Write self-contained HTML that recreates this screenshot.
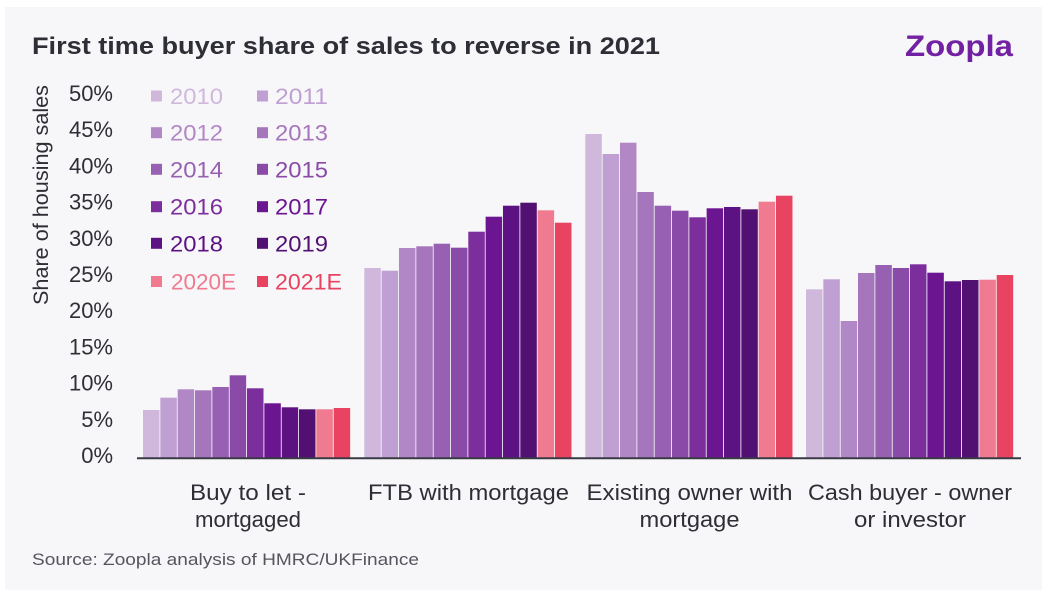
<!DOCTYPE html>
<html>
<head>
<meta charset="utf-8">
<style>
html,body{margin:0;padding:0;background:#ffffff;}
body{width:1054px;height:604px;overflow:hidden;}
svg{display:block;font-family:"Liberation Sans",sans-serif;}
</style>
</head>
<body>
<svg width="1054" height="604" viewBox="0 0 1054 604" xmlns="http://www.w3.org/2000/svg">
  <rect x="0" y="0" width="1054" height="604" fill="#ffffff"/>
  <rect x="5" y="7" width="1037" height="583" fill="#f7f7f9"/>

  <!-- Title -->
  <text x="32" y="54" font-size="24.5" font-weight="bold" fill="#2e2e36" textLength="628" lengthAdjust="spacingAndGlyphs">First time buyer share of sales to reverse in 2021</text>

  <!-- Logo -->
  <text x="905" y="56" font-size="30" font-weight="bold" fill="#7321a3" textLength="108" lengthAdjust="spacingAndGlyphs">Zoopla</text>

  <!-- Y axis title -->
  <text transform="translate(48,195) rotate(-90)" text-anchor="middle" font-size="21" fill="#2e2e36" textLength="220" lengthAdjust="spacingAndGlyphs">Share of housing sales</text>

  <!-- Y tick labels -->
  <g font-size="22" fill="#2e2e36" text-anchor="end">
    <text x="113" y="101">50%</text>
    <text x="113" y="137">45%</text>
    <text x="113" y="173.5">40%</text>
    <text x="113" y="209.5">35%</text>
    <text x="113" y="246">30%</text>
    <text x="113" y="282">25%</text>
    <text x="113" y="318">20%</text>
    <text x="113" y="354.5">15%</text>
    <text x="113" y="390.5">10%</text>
    <text x="113" y="427">5%</text>
    <text x="113" y="463">0%</text>
  </g>

  <!-- Bars group 1 -->
  <g transform="translate(143,0)">
    <rect x="0" y="410" width="16.5" height="47.5" fill="#d0b8dd"/>
    <rect x="17.33" y="397.7" width="16.5" height="59.8" fill="#c09fd2"/>
    <rect x="34.67" y="389.3" width="16.5" height="68.2" fill="#b287c6"/>
    <rect x="52" y="390.3" width="16.5" height="67.2" fill="#a576bc"/>
    <rect x="69.33" y="387" width="16.5" height="70.5" fill="#9860b2"/>
    <rect x="86.67" y="375.3" width="16.5" height="82.2" fill="#8a4aa8"/>
    <rect x="104" y="388.3" width="16.5" height="69.2" fill="#7c2e9d"/>
    <rect x="121.33" y="403.3" width="16.5" height="54.2" fill="#6b1591"/>
    <rect x="138.67" y="407.3" width="16.5" height="50.2" fill="#5d1283"/>
    <rect x="156" y="409.3" width="16.5" height="48.2" fill="#521072"/>
    <rect x="173.33" y="409.3" width="16.5" height="48.2" fill="#f07a8f"/>
    <rect x="190.67" y="408" width="16.5" height="49.5" fill="#e84462"/>
  </g>
  <!-- Bars group 2 -->
  <g transform="translate(364.3,0)">
    <rect x="0" y="268" width="16.5" height="189.5" fill="#d0b8dd"/>
    <rect x="17.33" y="270.7" width="16.5" height="186.8" fill="#c09fd2"/>
    <rect x="34.67" y="248" width="16.5" height="209.5" fill="#b287c6"/>
    <rect x="52" y="246.3" width="16.5" height="211.2" fill="#a576bc"/>
    <rect x="69.33" y="243.7" width="16.5" height="213.8" fill="#9860b2"/>
    <rect x="86.67" y="247.7" width="16.5" height="209.8" fill="#8a4aa8"/>
    <rect x="104" y="231.7" width="16.5" height="225.8" fill="#7c2e9d"/>
    <rect x="121.33" y="216.7" width="16.5" height="240.8" fill="#6b1591"/>
    <rect x="138.67" y="205.7" width="16.5" height="251.8" fill="#5d1283"/>
    <rect x="156" y="202.7" width="16.5" height="254.8" fill="#521072"/>
    <rect x="173.33" y="210.3" width="16.5" height="247.2" fill="#f07a8f"/>
    <rect x="190.67" y="222.7" width="16.5" height="234.8" fill="#e84462"/>
  </g>
  <!-- Bars group 3 -->
  <g transform="translate(585.3,0)">
    <rect x="0" y="134" width="16.5" height="323.5" fill="#d0b8dd"/>
    <rect x="17.33" y="154" width="16.5" height="303.5" fill="#c09fd2"/>
    <rect x="34.67" y="142.7" width="16.5" height="314.8" fill="#b287c6"/>
    <rect x="52" y="192" width="16.5" height="265.5" fill="#a576bc"/>
    <rect x="69.33" y="205.7" width="16.5" height="251.8" fill="#9860b2"/>
    <rect x="86.67" y="210.7" width="16.5" height="246.8" fill="#8a4aa8"/>
    <rect x="104" y="217.3" width="16.5" height="240.2" fill="#7c2e9d"/>
    <rect x="121.33" y="208.3" width="16.5" height="249.2" fill="#6b1591"/>
    <rect x="138.67" y="207" width="16.5" height="250.5" fill="#5d1283"/>
    <rect x="156" y="209.3" width="16.5" height="248.2" fill="#521072"/>
    <rect x="173.33" y="201.7" width="16.5" height="255.8" fill="#f07a8f"/>
    <rect x="190.67" y="195.7" width="16.5" height="261.8" fill="#e84462"/>
  </g>
  <!-- Bars group 4 -->
  <g transform="translate(806,0)">
    <rect x="0" y="289.3" width="16.5" height="168.2" fill="#d0b8dd"/>
    <rect x="17.33" y="279.3" width="16.5" height="178.2" fill="#c09fd2"/>
    <rect x="34.67" y="321" width="16.5" height="136.5" fill="#b287c6"/>
    <rect x="52" y="273" width="16.5" height="184.5" fill="#a576bc"/>
    <rect x="69.33" y="265" width="16.5" height="192.5" fill="#9860b2"/>
    <rect x="86.67" y="268" width="16.5" height="189.5" fill="#8a4aa8"/>
    <rect x="104" y="264.3" width="16.5" height="193.2" fill="#7c2e9d"/>
    <rect x="121.33" y="272.7" width="16.5" height="184.8" fill="#6b1591"/>
    <rect x="138.67" y="281.3" width="16.5" height="176.2" fill="#5d1283"/>
    <rect x="156" y="280" width="16.5" height="177.5" fill="#521072"/>
    <rect x="173.33" y="279.7" width="16.5" height="177.8" fill="#f07a8f"/>
    <rect x="190.67" y="275" width="16.5" height="182.5" fill="#e84462"/>
  </g>

  <!-- Axis line -->
  <line x1="137" y1="458.3" x2="1021" y2="458.3" stroke="#3a3a44" stroke-width="2"/>

  <!-- Legend -->
  <g font-size="22">
    <rect x="151" y="90.5" width="11" height="11" fill="#d0b8dd"/>
    <text x="170" y="104" fill="#d0b8dd" textLength="53" lengthAdjust="spacingAndGlyphs">2010</text>
    <rect x="257" y="90.5" width="11" height="11" fill="#c09fd2"/>
    <text x="275" y="104" fill="#c09fd2" textLength="53" lengthAdjust="spacingAndGlyphs">2011</text>

    <rect x="151" y="127.2" width="11" height="11" fill="#b287c6"/>
    <text x="170" y="140.7" fill="#b287c6" textLength="53" lengthAdjust="spacingAndGlyphs">2012</text>
    <rect x="257" y="127.2" width="11" height="11" fill="#a576bc"/>
    <text x="275" y="140.7" fill="#a576bc" textLength="53" lengthAdjust="spacingAndGlyphs">2013</text>

    <rect x="151" y="163.8" width="11" height="11" fill="#9860b2"/>
    <text x="170" y="177.3" fill="#9860b2" textLength="53" lengthAdjust="spacingAndGlyphs">2014</text>
    <rect x="257" y="163.8" width="11" height="11" fill="#8a4aa8"/>
    <text x="275" y="177.3" fill="#8a4aa8" textLength="53" lengthAdjust="spacingAndGlyphs">2015</text>

    <rect x="151" y="201.2" width="11" height="11" fill="#7c2e9d"/>
    <text x="170" y="214.7" fill="#7c2e9d" textLength="53" lengthAdjust="spacingAndGlyphs">2016</text>
    <rect x="257" y="201.2" width="11" height="11" fill="#6b1591"/>
    <text x="275" y="214.7" fill="#6b1591" textLength="53" lengthAdjust="spacingAndGlyphs">2017</text>

    <rect x="151" y="237.8" width="11" height="11" fill="#5d1283"/>
    <text x="170" y="251.3" fill="#5d1283" textLength="53" lengthAdjust="spacingAndGlyphs">2018</text>
    <rect x="257" y="237.8" width="11" height="11" fill="#521072"/>
    <text x="275" y="251.3" fill="#521072" textLength="53" lengthAdjust="spacingAndGlyphs">2019</text>

    <rect x="151" y="276" width="11" height="11" fill="#f07a8f"/>
    <text x="171" y="289.5" fill="#f07a8f" textLength="65" lengthAdjust="spacingAndGlyphs">2020E</text>
    <rect x="257" y="276" width="11" height="11" fill="#e84462"/>
    <text x="275" y="289.5" fill="#e84462" textLength="67" lengthAdjust="spacingAndGlyphs">2021E</text>
  </g>

  <!-- X labels -->
  <g font-size="22" fill="#2e2e36" text-anchor="middle">
    <text x="248" y="500" textLength="116" lengthAdjust="spacingAndGlyphs">Buy to let -</text>
    <text x="248" y="527" textLength="106" lengthAdjust="spacingAndGlyphs">mortgaged</text>
    <text x="468.5" y="500" textLength="201" lengthAdjust="spacingAndGlyphs">FTB with mortgage</text>
    <text x="689.5" y="500" textLength="206" lengthAdjust="spacingAndGlyphs">Existing owner with</text>
    <text x="689.5" y="527" textLength="100" lengthAdjust="spacingAndGlyphs">mortgage</text>
    <text x="910" y="500" textLength="204" lengthAdjust="spacingAndGlyphs">Cash buyer - owner</text>
    <text x="910" y="527" textLength="112" lengthAdjust="spacingAndGlyphs">or investor</text>
  </g>

  <!-- Source -->
  <text x="32" y="565" font-size="17" fill="#55555e" textLength="387" lengthAdjust="spacingAndGlyphs">Source: Zoopla analysis of HMRC/UKFinance</text>
</svg>
</body>
</html>
